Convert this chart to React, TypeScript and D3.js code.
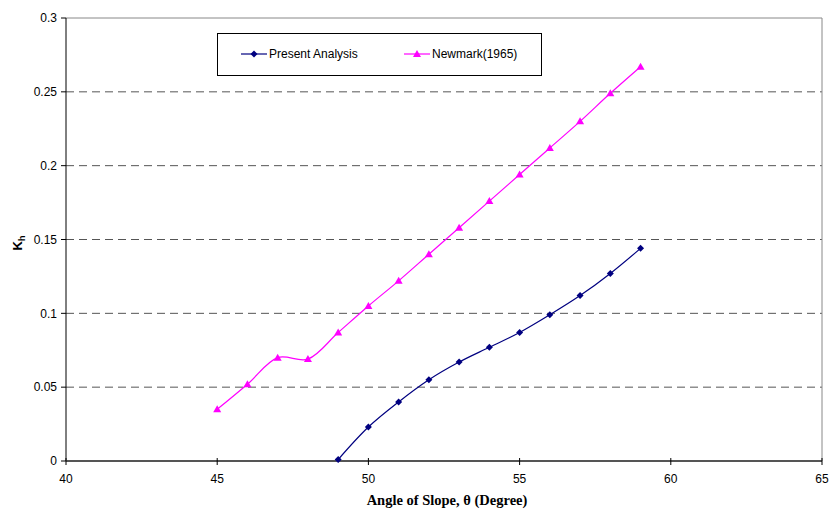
import React from "react";
import * as d3 from "d3";

const angles = [45, 46, 47, 48, 49, 50, 51, 52, 53, 54, 55, 56, 57, 58, 59];
const newmark = [0.035, 0.052, 0.070, 0.069, 0.087, 0.105, 0.122, 0.140, 0.158, 0.176, 0.194, 0.212, 0.230, 0.249, 0.267];
const presentAngles = [49, 50, 51, 52, 53, 54, 55, 56, 57, 58, 59];
const present = [0.001, 0.023, 0.040, 0.055, 0.067, 0.077, 0.087, 0.099, 0.112, 0.127, 0.144];
const xTicks = [40, 45, 50, 55, 60, 65];
const yTicks = [0, 0.05, 0.1, 0.15, 0.2, 0.25, 0.3];
const seriesNames = ["Present Analysis", "Newmark(1965)"];

const W = 830, H = 510;
const L = 66, R = 822, T = 18, B = 461;

export default function App() {
  const x = d3.scaleLinear().domain([40, 65]).range([L, R]);
  const y = d3.scaleLinear().domain([0, 0.3]).range([B, T]);
  const line = d3.line<[number, number]>()
    .x(d => x(d[0])).y(d => y(d[1]))
    .curve(d3.curveCatmullRom.alpha(0.5));
  const nmPts: [number, number][] = angles.map((a, i) => [a, newmark[i]]);
  const prPts: [number, number][] = presentAngles.map((a, i) => [a, present[i]]);
  const blue = "#000080";
  const mag = "#ff00ff";
  const diamond = (cx: number, cy: number, k: string | number) => (
    <path key={k} d={`M${cx},${cy - 3.5}L${cx + 3.5},${cy}L${cx},${cy + 3.5}L${cx - 3.5},${cy}Z`} fill={blue} />
  );
  const tri = (cx: number, cy: number, k: string | number) => (
    <path key={k} d={`M${cx},${cy - 4}L${cx + 4},${cy + 3}L${cx - 4},${cy + 3}Z`} fill={mag} />
  );
  const font = "'Liberation Sans', Arial, sans-serif";
  return (
    <svg width={W} height={H} style={{ position: "absolute", left: 0, top: 0, background: "#fff" }}>
      <defs>
        <clipPath id="plot"><rect x={L} y={T} width={R - L} height={B - T} /></clipPath>
      </defs>
      {/* gridlines */}
      {yTicks.filter(t => t > 0 && t < 0.3).map(t => (
        <line key={t} x1={L} x2={R} y1={y(t)} y2={y(t)} stroke="#555" strokeWidth={1} strokeDasharray="8,5" />
      ))}
      {/* plot border */}
      <line x1={L} x2={R} y1={T} y2={T} stroke="#888" strokeWidth={1} />
      <line x1={R} x2={R} y1={T} y2={B} stroke="#888" strokeWidth={1} />
      {/* y axis */}
      <line x1={L} x2={L} y1={T} y2={B} stroke="#000" strokeWidth={1} />
      {yTicks.map(t => (
        <g key={t}>
          <line x1={L - 5} x2={L} y1={y(t)} y2={y(t)} stroke="#000" />
          <text x={L - 9} y={y(t)} dy="0.35em" textAnchor="end" fontFamily={font} fontSize={12} fill="#000">{String(t)}</text>
        </g>
      ))}
      {/* x axis */}
      <line x1={L} x2={R} y1={B} y2={B} stroke="#555" strokeWidth={2} />
      {xTicks.map(t => (
        <g key={t}>
          <line x1={x(t)} x2={x(t)} y1={B - 3} y2={B + 4} stroke="#000" />
          <text x={x(t)} y={B + 22} textAnchor="middle" fontFamily={font} fontSize={12} fill="#000">{t}</text>
        </g>
      ))}
      {/* series */}
      <g clipPath="url(#plot)">
        <path d={line(nmPts) || ""} fill="none" stroke={mag} strokeWidth={1.2} />
        <path d={line(prPts) || ""} fill="none" stroke={blue} strokeWidth={1.2} />
      </g>
      {nmPts.map((p, i) => tri(x(p[0]), y(p[1]), "t" + i))}
      {prPts.map((p, i) => diamond(x(p[0]), y(p[1]), "d" + i))}
      {/* axis titles */}
      <text x={447} y={505} textAnchor="middle" fontFamily="'Liberation Serif', 'Times New Roman', serif" fontWeight="bold" fontSize={14.5} fill="#000">
        Angle of Slope, θ (Degree)
      </text>
      <text transform={`translate(22,${(T + B) / 2 + 11}) rotate(-90)`} fontFamily={font} fontWeight="bold" fontSize={13} fill="#000">
        K<tspan fontSize={9} dy={3}>h</tspan>
      </text>
      {/* legend */}
      <rect x={217.5} y={33.5} width={324} height={42} fill="#fff" stroke="#000" strokeWidth={1} />
      <line x1={241} x2={267} y1={54} y2={54} stroke={blue} strokeWidth={1.2} />
      {diamond(254, 54, "ld")}
      <text x={269} y={54} dy="0.35em" fontFamily={font} fontSize={12} fill="#000">{seriesNames[0]}</text>
      <line x1={404} x2={430} y1={54} y2={54} stroke={mag} strokeWidth={1.2} />
      {tri(417, 54, "lt")}
      <text x={432} y={54} dy="0.35em" fontFamily={font} fontSize={12} fill="#000">{seriesNames[1]}</text>
    </svg>
  );
}
